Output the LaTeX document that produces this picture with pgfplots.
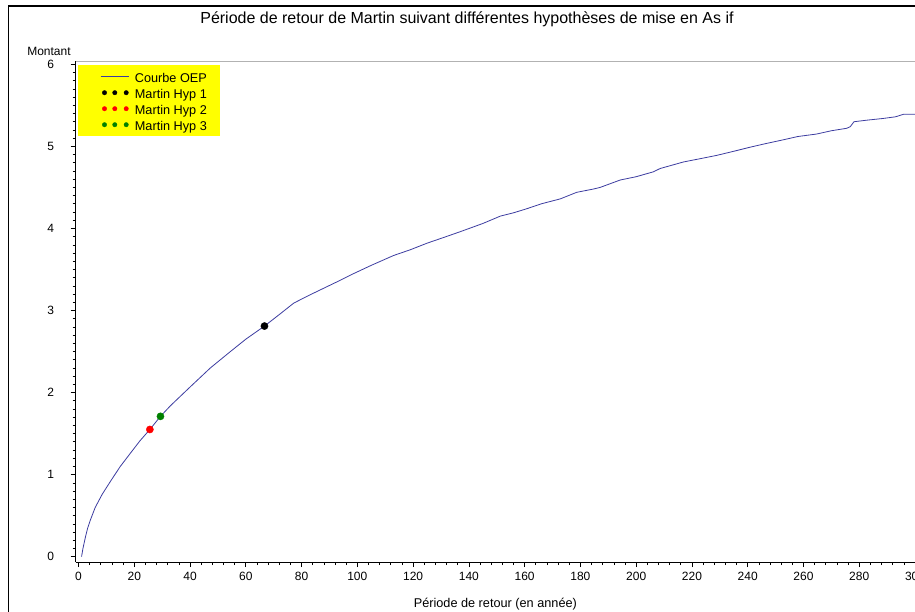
\documentclass[border=0pt]{standalone}
\usepackage{pgfplots}
\pgfplotsset{compat=1.18}
\usepackage{fontspec}
\setmainfont{Liberation Sans}

\definecolor{oep}{RGB}{60,60,160}
\definecolor{hypgreen}{RGB}{0,128,0}
\definecolor{legyellow}{RGB}{255,255,0}

\begin{document}
\begin{tikzpicture}
\useasboundingbox (0,0) rectangle (915pt,-612pt);
\clip (0,0) rectangle (915pt,-612pt);
% cadre du graphique SAS
\draw[line width=1.6pt] (8.3pt,-6pt) rectangle (926pt,-640pt);
\node[anchor=base, font=\fontsize{16}{19}\selectfont] at (467pt,-24pt)
  {Période de retour de Martin suivant différentes hypothèses de mise en As if};

\begin{axis}[
    at={(75.7pt,-562pt)}, anchor=south west,
    scale only axis, clip=false,
    width=839.3pt, height=501pt,
    xmin=-1, xmax=300,
    ymin=-0.065, ymax=6.04,
    axis x line*=bottom, axis y line*=left,
    axis line style={black, line width=0.8pt, -},
    xtick={0,20,...,300},
    ytick={0,1,...,6},
    minor x tick num=4,
    minor y tick num=9,
    tick align=outside,
    major tick length=5pt,
    minor tick length=3pt,
    tick style={black, line width=0.6pt},
    ticklabel style={font=\fontsize{12}{14}\selectfont},
    /pgf/number format/assume math mode=true,
    xticklabel style={yshift=-2pt},
    yticklabel style={xshift=-13pt},
    xlabel={Période de retour (en année)},
    xlabel style={font=\fontsize{12.7}{15}\selectfont, yshift=-10pt},
    legend style={
        at={(0.0031,0.992)}, anchor=north west,
        fill=legyellow, draw=none,
        font=\fontsize{12.7}{15}\selectfont,
        inner xsep=12pt, inner ysep=3.5pt,
        row sep=0pt,
        nodes={inner ysep=0pt, inner xsep=1pt, text height=14pt, text depth=2pt},
        /tikz/every odd column/.append style={column sep=5pt},
    },
    legend cell align=left,
]
\draw[gray!60, line width=1pt] (rel axis cs:0,1) -- (rel axis cs:1,1) -- (rel axis cs:1,0);

\addplot[oep, line width=0.8pt,
  legend image code/.code={\path[draw=none,fill=none] (-10pt,0pt) -- (0pt,0pt); \draw[oep, line width=0.8pt] (0pt,0pt) -- (28pt,0pt);}]
  coordinates {
  (1.1,0.00) (1.6,0.10) (2.5,0.24) (3.3,0.35) (4.3,0.45) (6.0,0.60) (8.5,0.76)
  (11.5,0.92) (15.0,1.10) (18.6,1.26) (22.0,1.41) (25.6,1.55) (29.4,1.71)
  (33.0,1.84) (40.1,2.07) (47.3,2.30) (54.5,2.50) (60.0,2.65) (66.7,2.81)
  (72.0,2.95) (77.2,3.09) (83.0,3.19) (89.1,3.29) (94.0,3.37) (98.7,3.45)
  (105.0,3.55) (113.0,3.67) (119.0,3.74) (125.0,3.82) (131.0,3.89) (136.9,3.96)
  (145.0,4.06) (151.3,4.15) (156.0,4.19) (160.8,4.24) (166.0,4.30) (172.8,4.36)
  (178.7,4.44) (184.7,4.48) (187.1,4.50) (194.3,4.59) (200.0,4.63) (206.2,4.69)
  (208.6,4.73) (217.0,4.81) (223.0,4.85) (228.9,4.89) (235.0,4.94) (240.9,4.99)
  (246.0,5.03) (252.8,5.08) (258.0,5.12) (264.7,5.15) (270.0,5.19) (275.5,5.22)
  (276.8,5.24) (278.1,5.30) (283.0,5.32) (288.6,5.34) (293.0,5.36) (295.8,5.39)
  (300.0,5.39)
};
\addlegendentry{Courbe OEP}

\addplot[only marks, mark=*, black, mark size=3.6pt,
  legend image code/.code={\path[draw=none,fill=none] (-10pt,0pt) -- (28pt,0pt); \fill[black] (4pt,0pt) circle (2.2pt); \fill[black] (14.3pt,0pt) circle (2.2pt); \fill[black] (25.7pt,0pt) circle (2.2pt);}]
  coordinates {(66.7,2.81)};
\addlegendentry{Martin Hyp 1}

\addplot[only marks, mark=*, red, mark size=3.6pt,
  legend image code/.code={\path[draw=none,fill=none] (-10pt,0pt) -- (28pt,0pt); \fill[red] (4pt,0pt) circle (2.2pt); \fill[red] (14.3pt,0pt) circle (2.2pt); \fill[red] (25.7pt,0pt) circle (2.2pt);}]
  coordinates {(25.6,1.55)};
\addlegendentry{Martin Hyp 2}

\addplot[only marks, mark=*, hypgreen, mark size=3.6pt,
  legend image code/.code={\path[draw=none,fill=none] (-10pt,0pt) -- (28pt,0pt); \fill[hypgreen] (4pt,0pt) circle (2.2pt); \fill[hypgreen] (14.3pt,0pt) circle (2.2pt); \fill[hypgreen] (25.7pt,0pt) circle (2.2pt);}]
  coordinates {(29.4,1.71)};
\addlegendentry{Martin Hyp 3}

\node[anchor=base east, font=\fontsize{12}{14}\selectfont]
  at ([xshift=-1.5pt,yshift=6pt]rel axis cs:0,1) {Montant};
\end{axis}
\end{tikzpicture}
\end{document}
